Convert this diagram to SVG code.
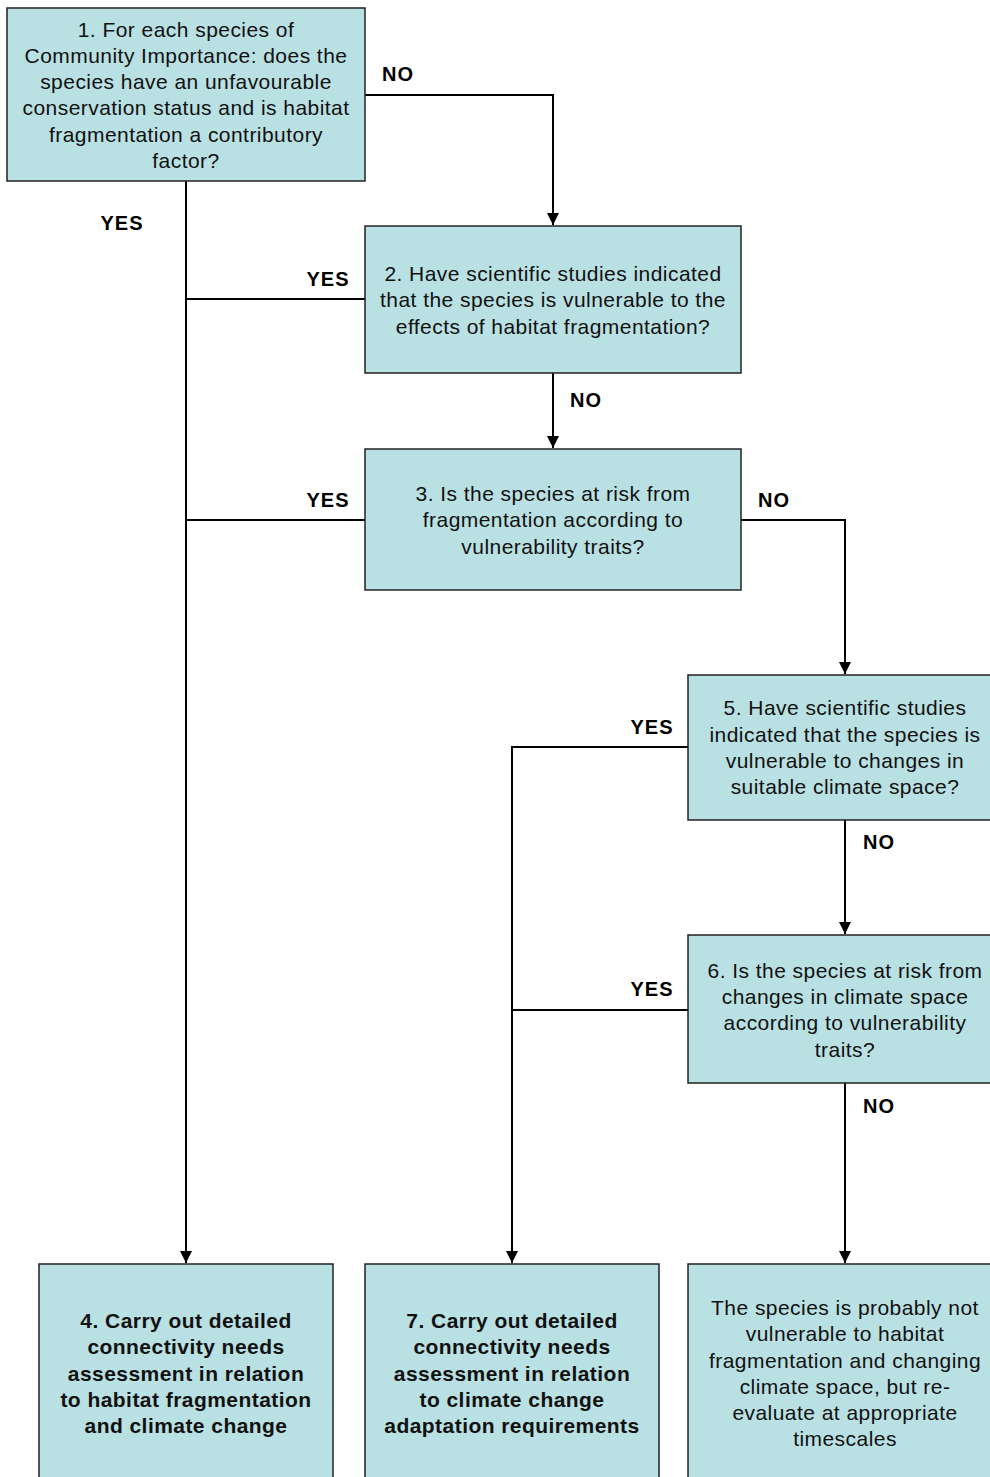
<svg xmlns="http://www.w3.org/2000/svg" width="990" height="1477" viewBox="0 0 990 1477">
<defs>
<style>
.box{fill:#b9e0e3;stroke:#222;stroke-width:1.5}
.t{font-family:"Liberation Sans",Arial,sans-serif;font-size:21px;letter-spacing:0.45px;fill:#111;text-anchor:middle}
.b{font-weight:bold}
.lbl{font-family:"Liberation Sans",Arial,sans-serif;font-size:20px;letter-spacing:1px;font-weight:bold;fill:#000;text-anchor:middle}
.c{fill:none;stroke:#000;stroke-width:2}
</style>
<marker id="ah" markerWidth="12" markerHeight="12" viewBox="0 0 12 12" refX="12" refY="6" orient="auto" markerUnits="userSpaceOnUse">
<path d="M0,0 L12,6 L0,12 Z" fill="#000"/>
</marker>
</defs>
<rect width="990" height="1477" fill="#fff"/>
<g id="connectors">
<polyline class="c" points="186,181 186,1263" marker-end="url(#ah)"/>
<polyline class="c" points="365,299 186,299"/>
<polyline class="c" points="365,520 186,520"/>
<polyline class="c" points="365,95 553,95 553,225" marker-end="url(#ah)"/>
<polyline class="c" points="553,373 553,448" marker-end="url(#ah)"/>
<polyline class="c" points="741,520 845,520 845,674" marker-end="url(#ah)"/>
<polyline class="c" points="688,747 512,747 512,1263" marker-end="url(#ah)"/>
<polyline class="c" points="688,1010 512,1010"/>
<polyline class="c" points="845,820 845,934" marker-end="url(#ah)"/>
<polyline class="c" points="845,1083 845,1263" marker-end="url(#ah)"/>
<text class="lbl" x="398" y="81">NO</text>
<text class="lbl" x="122" y="230">YES</text>
<text class="lbl" x="328" y="286">YES</text>
<text class="lbl" x="586" y="407">NO</text>
<text class="lbl" x="328" y="507">YES</text>
<text class="lbl" x="774" y="507">NO</text>
<text class="lbl" x="652" y="734">YES</text>
<text class="lbl" x="879" y="849">NO</text>
<text class="lbl" x="652" y="996">YES</text>
<text class="lbl" x="879" y="1113">NO</text>
</g>
<g id="n1">
<rect class="box" x="7" y="8" width="358" height="173"/>
<text class="t"><tspan x="186" y="37">1. For each species of</tspan><tspan x="186" y="63">Community Importance: does the</tspan><tspan x="186" y="89">species have an unfavourable</tspan><tspan x="186" y="115">conservation status and is habitat</tspan><tspan x="186" y="142">fragmentation a contributory</tspan><tspan x="186" y="168">factor?</tspan></text>
</g>
<g id="n2">
<rect class="box" x="365" y="226" width="376" height="147"/>
<text class="t"><tspan x="553" y="281">2. Have scientific studies indicated</tspan><tspan x="553" y="307">that the species is vulnerable to the</tspan><tspan x="553" y="334">effects of habitat fragmentation?</tspan></text>
</g>
<g id="n3">
<rect class="box" x="365" y="449" width="376" height="141"/>
<text class="t"><tspan x="553" y="501">3. Is the species at risk from</tspan><tspan x="553" y="527">fragmentation according to</tspan><tspan x="553" y="554">vulnerability traits?</tspan></text>
</g>
<g id="n5">
<rect class="box" x="688" y="675" width="314" height="145"/>
<text class="t"><tspan x="845" y="715">5. Have scientific studies</tspan><tspan x="845" y="742">indicated that the species is</tspan><tspan x="845" y="768">vulnerable to changes in</tspan><tspan x="845" y="794">suitable climate space?</tspan></text>
</g>
<g id="n6">
<rect class="box" x="688" y="935" width="314" height="148"/>
<text class="t"><tspan x="845" y="978">6. Is the species at risk from</tspan><tspan x="845" y="1004">changes in climate space</tspan><tspan x="845" y="1030">according to vulnerability</tspan><tspan x="845" y="1057">traits?</tspan></text>
</g>
<g id="n4">
<rect class="box" x="39" y="1264" width="294" height="220"/>
<text class="t b"><tspan x="186" y="1328">4. Carry out detailed</tspan><tspan x="186" y="1354">connectivity needs</tspan><tspan x="186" y="1381">assessment in relation</tspan><tspan x="186" y="1407">to habitat fragmentation</tspan><tspan x="186" y="1433">and climate change</tspan></text>
</g>
<g id="n7">
<rect class="box" x="365" y="1264" width="294" height="220"/>
<text class="t b"><tspan x="512" y="1328">7. Carry out detailed</tspan><tspan x="512" y="1354">connectivity needs</tspan><tspan x="512" y="1381">assessment in relation</tspan><tspan x="512" y="1407">to climate change</tspan><tspan x="512" y="1433">adaptation requirements</tspan></text>
</g>
<g id="n8">
<rect class="box" x="688" y="1264" width="314" height="220"/>
<text class="t"><tspan x="845" y="1315">The species is probably not</tspan><tspan x="845" y="1341">vulnerable to habitat</tspan><tspan x="845" y="1368">fragmentation and changing</tspan><tspan x="845" y="1394">climate space, but re-</tspan><tspan x="845" y="1420">evaluate at appropriate</tspan><tspan x="845" y="1446">timescales</tspan></text>
</g>
</svg>
